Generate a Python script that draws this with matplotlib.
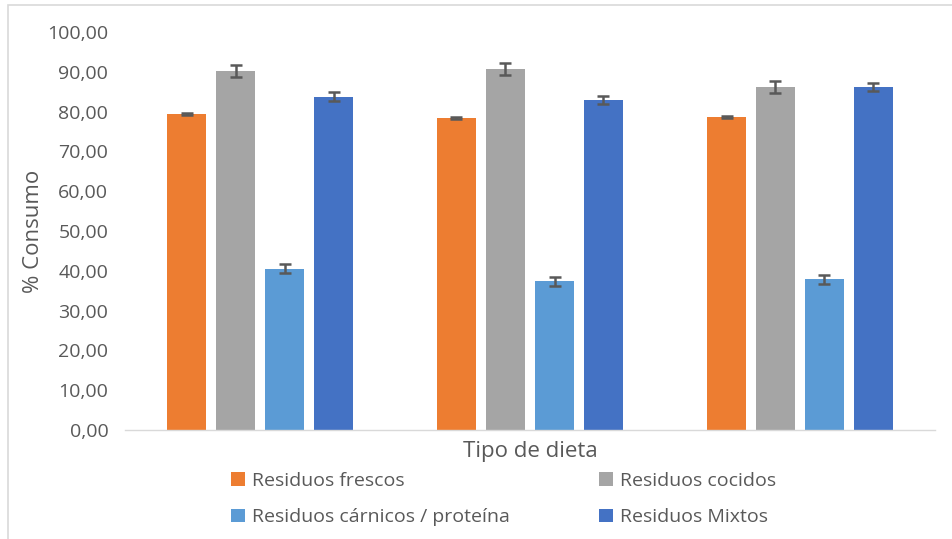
import numpy as np
import matplotlib.pyplot as plt
from matplotlib.patches import Rectangle

plt.rcParams["font.family"] = ["Open Sans", "DejaVu Sans"]

groups = ["Dieta 1", "Dieta 2", "Dieta 3"]
series = ["Residuos frescos", "Residuos cocidos",
          "Residuos cárnicos / proteína", "Residuos Mixtos"]
values = [
    [79.4, 78.4, 78.6],
    [90.2, 90.7, 86.2],
    [40.5, 37.4, 37.9],
    [83.7, 82.9, 86.2],
]
errors = [
    [0.3, 0.3, 0.3],
    [1.4, 1.5, 1.5],
    [1.1, 1.1, 1.1],
    [1.1, 1.1, 1.1],
]
colors = ["#ED7D31", "#A5A5A5", "#5B9BD5", "#4472C4"]
text_col = "#595959"

fig = plt.figure(figsize=(9.53, 5.39), dpi=100)
ax = fig.add_axes([125 / 953, 1 - 430 / 539, 810 / 953, 398 / 539])

x = np.arange(len(groups))
width = 39 / 270
pitch = 49 / 270
bars = []
for i, name in enumerate(series):
    b = ax.bar(x + (i - 1.5) * pitch, values[i], width, color=colors[i], label=name,
               yerr=errors[i], capsize=4,
               error_kw=dict(ecolor="#595959", elinewidth=1.8, capthick=1.8))
    bars.append(b)

ax.set_xlim(-0.5, 2.5)
ax.set_ylim(0, 100)
ax.set_yticks(np.arange(0, 101, 10))
ax.set_yticklabels([f"{v:.2f}".replace(".", ",") for v in np.arange(0, 101, 10)],
                   color=text_col, fontsize=14)
ax.set_xticks([])
ax.tick_params(axis="y", length=0, pad=12)
for s in ["left", "right", "top"]:
    ax.spines[s].set_visible(False)
ax.spines["bottom"].set_color("#D9D9D9")
ax.spines["bottom"].set_linewidth(1)

ax.set_ylabel("% Consumo", color=text_col, fontsize=16, labelpad=2)
fig.text(530 / 953, 1 - 452 / 539, "Tipo de dieta", ha="center", va="center",
         color=text_col, fontsize=16)

# row-major order for the two-column legend
order = [0, 2, 1, 3]
leg = fig.legend([bars[i] for i in order], [series[i] for i in order],
                 loc="center left", bbox_to_anchor=(214 / 953, 1 - 499 / 539),
                 ncol=2, frameon=False, fontsize=14, handlelength=0.7,
                 handleheight=0.7, handletextpad=0.35, columnspacing=4.6,
                 labelspacing=0.95)
for t in leg.get_texts():
    t.set_color(text_col)

fig.patches.append(Rectangle((8 / 953, -0.1), 1.1, 1.1 - 5 / 539, transform=fig.transFigure,
                             fill=False, edgecolor="#D9D9D9", linewidth=1.2))

fig.savefig("out.png", dpi=100)
